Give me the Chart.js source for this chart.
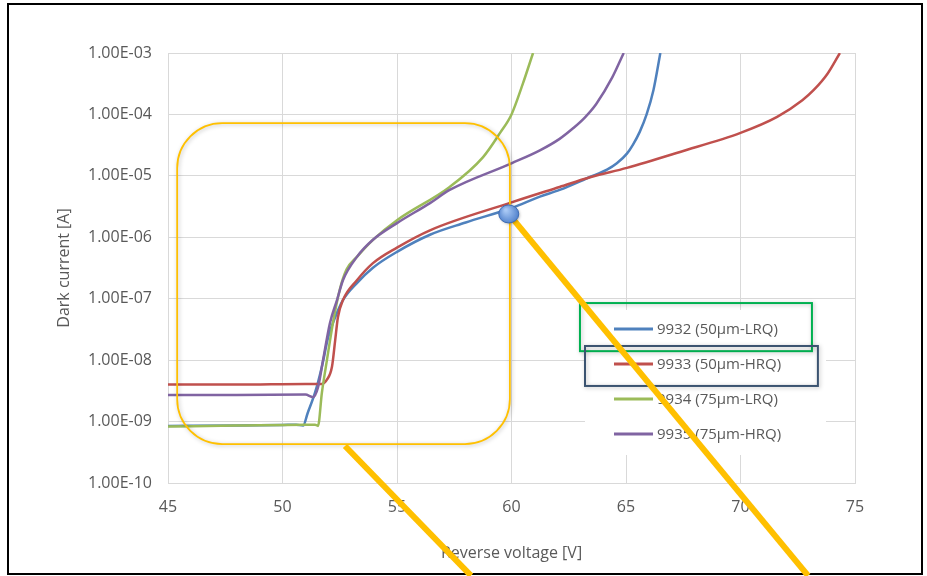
<!DOCTYPE html>
<html>
<head>
<meta charset="utf-8">
<script src="https://cdn.jsdelivr.net/npm/chart.js@4.4.1/dist/chart.umd.min.js"></script>
<style>
  html, body { margin: 0; padding: 0; background: #fff; }
</style>
</head>
<body>
<canvas id="darkCurrent" width="927" height="576"></canvas>
<script>
const seriesNames = ['9932 (50µm-LRQ)', '9933 (50µm-HRQ)', '9934 (75µm-LRQ)', '9935 (75µm-HRQ)'];
const seriesColors = ['#4f81bd', '#c0504d', '#9bbb59', '#8064a2'];

// 9932 (50µm-LRQ)
const v9932 = [45, 48, 50, 50.6, 50.9, 51.1, 51.42, 51.72, 52.0, 52.3, 52.64, 53.25, 53.95, 55, 56.44, 58, 60, 61.24, 62.1, 63.4, 64.17, 64.6, 65.04, 65.3, 65.6, 65.9, 66.2, 66.5];
const i9932 = [8.5e-10, 8.6e-10, 8.8e-10, 8.9e-10, 8.6e-10, 1.38e-9, 2.95e-9, 7.8e-9, 2.4e-8, 5.0e-8, 9.5e-8, 1.8e-7, 3.2e-7, 5.8e-7, 1.1e-6, 1.74e-6, 3.0e-6, 4.6e-6, 5.9e-6, 9.5e-6, 1.26e-5, 1.6e-5, 2.3e-5, 3.2e-5, 5.2e-5, 1.0e-4, 2.5e-4, 1.0e-3];

// 9933 (50µm-HRQ)
const v9933 = [45, 48, 51, 51.72, 51.94, 52.16, 52.3, 52.42, 52.64, 53.25, 53.95, 55, 56.44, 60, 62.1, 63.43, 65.04, 67.36, 70, 71.6, 72.7, 73.2, 73.8, 74.34];
const i9933 = [4.0e-9, 4.0e-9, 4.1e-9, 4.1e-9, 4.8e-9, 7.8e-9, 2.1e-8, 5.0e-8, 9.5e-8, 2.0e-7, 3.8e-7, 6.8e-7, 1.3e-6, 3.7e-6, 6.6e-6, 9.5e-6, 1.35e-5, 2.45e-5, 5.0e-5, 9.1e-5, 1.7e-4, 2.5e-4, 4.6e-4, 1.0e-3];

// 9934 (75µm-LRQ)
const v9934 = [45, 48, 51, 51.42, 51.55, 51.72, 51.94, 52.2, 52.5, 52.8, 53.25, 53.95, 55, 57.3, 58.75, 59.5, 60, 60.5, 60.94];
const i9934 = [8.3e-10, 8.6e-10, 8.9e-10, 8.9e-10, 8.5e-10, 2.95e-9, 1.0e-8, 4.0e-8, 1.4e-7, 3.0e-7, 4.8e-7, 9.1e-7, 1.9e-6, 6.6e-6, 2.0e-5, 5.0e-5, 1.0e-4, 3.2e-4, 1.0e-3];

// 9935 (75µm-HRQ)
const v9935 = [45, 48, 51, 51.33, 51.55, 51.77, 52.07, 52.38, 52.64, 53.25, 53.95, 55, 56.44, 57.3, 60, 61.24, 62.1, 62.7, 63.2, 63.7, 64.4, 64.9];
const i9935 = [2.7e-9, 2.7e-9, 2.75e-9, 2.5e-9, 3.6e-9, 1.0e-8, 4.0e-8, 9.5e-8, 2.0e-7, 4.8e-7, 9.1e-7, 1.7e-6, 3.6e-6, 5.9e-6, 1.6e-5, 2.6e-5, 4.0e-5, 6.0e-5, 8.9e-5, 1.48e-4, 4.0e-4, 1.0e-3];

const xTicks = [45, 50, 55, 60, 65, 70, 75];
const yTicks = [1e-10, 1e-9, 1e-8, 1e-7, 1e-6, 1e-5, 1e-4, 1e-3];

const seriesV = [v9932, v9933, v9934, v9935];
const seriesI = [i9932, i9933, i9934, i9935];

const textColor = '#595959';
const fontFamily = "'Open Sans', 'DejaVu Sans', sans-serif";

function fmtE(v) {
    const parts = v.toExponential(2).split('e');
    const e = parseInt(parts[1]);
    return parts[0] + 'E' + (e < 0 ? '-' : '+') + String(Math.abs(e)).padStart(2, '0');
}

const datasets = seriesNames.map((name, k) => ({
    label: name,
    data: seriesV[k].map((v, j) => ({ x: v, y: seriesI[k][j] })),
    borderColor: seriesColors[k],
    backgroundColor: seriesColors[k],
    borderWidth: 2.5,
    pointRadius: 0,
    cubicInterpolationMode: 'monotone',
    order: 3 - k,
}));

// callout shapes placed in data units (volts, amps)
const calloutBox = { x0: 45.4, x1: 59.93, y0: 7.2e-5, y1: 4.3e-10 };
const calloutDot = { x: 59.88, y: 2.4e-6 };
const calloutLines = [
    { x0: 59.88, y0: 2.4e-6, x1: 72.95, y1: 3.1e-12 },
    { x0: 52.73, y0: 4.0e-10, x1: 58.23, y1: 3.1e-12 },
];
const legendFrames = [
    { x0: 62.99, x1: 73.12, y0: 8.5e-8, y1: 1.4e-8, color: '#00b050' },
    { x0: 63.21, x1: 73.38, y0: 1.7e-8, y1: 3.8e-9, color: '#3b5370' },
];

const decorPlugin = {
    id: 'decor',
    beforeDraw(chart) {
        const ctx = chart.ctx;
        ctx.save();
        ctx.fillStyle = '#fff';
        ctx.fillRect(0, 0, chart.width, chart.height);
        ctx.restore();
    },
    afterDraw(chart) {
        const ctx = chart.ctx;
        const xs = chart.scales.x, ys = chart.scales.y;
        const ca = chart.chartArea;
        const px = v => xs.getPixelForValue(v);
        const py = v => ys.getPixelForValue(v);
        ctx.save();

        // outer frame
        ctx.strokeStyle = '#000';
        ctx.lineWidth = 2;
        ctx.strokeRect(8, 4, 914, 570);

        // legend
        const lx = ca.right - 270, ly = ca.top + 257;
        ctx.fillStyle = '#fff';
        ctx.fillRect(lx, ly, 241, 145);
        ctx.font = '15px ' + fontFamily;
        ctx.textBaseline = 'middle';
        seriesNames.forEach((name, k) => {
            const rowY = ca.top + 276 + k * 35;
            ctx.strokeStyle = seriesColors[k];
            ctx.lineWidth = 3;
            ctx.beginPath();
            ctx.moveTo(ca.right - 241, rowY);
            ctx.lineTo(ca.right - 202, rowY);
            ctx.stroke();
            ctx.fillStyle = textColor;
            ctx.fillText(name, ca.right - 198, rowY + 1);
        });

        // rounded orange box
        ctx.shadowColor = 'rgba(0,0,0,0.25)';
        ctx.shadowBlur = 4;
        ctx.shadowOffsetX = 1;
        ctx.shadowOffsetY = 1;
        ctx.strokeStyle = '#ffc000';
        ctx.lineWidth = 1.75;
        ctx.beginPath();
        ctx.roundRect(px(calloutBox.x0), py(calloutBox.y0), px(calloutBox.x1) - px(calloutBox.x0), py(calloutBox.y1) - py(calloutBox.y0), 45);
        ctx.stroke();

        // frames around legend rows
        legendFrames.forEach(f => {
            ctx.strokeStyle = f.color;
            ctx.lineWidth = 2;
            ctx.strokeRect(px(f.x0), py(f.y0), px(f.x1) - px(f.x0), py(f.y1) - py(f.y0));
        });
        ctx.shadowColor = 'transparent';

        // thick pointer lines
        ctx.strokeStyle = '#ffc000';
        ctx.lineWidth = 6;
        ctx.lineCap = 'butt';
        calloutLines.forEach(l => {
            ctx.beginPath();
            ctx.moveTo(px(l.x0), py(l.y0));
            ctx.lineTo(px(l.x1), py(l.y1));
            ctx.stroke();
        });

        // blue dot
        const cx = px(calloutDot.x), cy = py(calloutDot.y);
        const g = ctx.createRadialGradient(cx - 3, cy - 4, 1, cx, cy, 11);
        g.addColorStop(0, '#a9c9f5');
        g.addColorStop(1, '#4a7cc9');
        ctx.shadowColor = 'rgba(0,0,0,0.3)';
        ctx.shadowBlur = 3;
        ctx.shadowOffsetY = 1;
        ctx.fillStyle = g;
        ctx.beginPath();
        ctx.ellipse(cx, cy, 10, 9, 0, 0, Math.PI * 2);
        ctx.fill();
        ctx.shadowColor = 'transparent';
        ctx.strokeStyle = '#3d6cb5';
        ctx.lineWidth = 1;
        ctx.stroke();

        ctx.restore();
    }
};

const config = {
    type: 'line',
    data: { datasets: datasets },
    options: {
        responsive: false,
        animation: false,
        layout: { padding: { top: 53, right: 72, bottom: 0, left: 0 } },
        plugins: {
            legend: { display: false },
            tooltip: { enabled: false },
        },
        scales: {
            x: {
                type: 'linear',
                min: 45,
                max: 75,
                afterBuildTicks: s => { s.ticks = xTicks.map(v => ({ value: v })); },
                afterFit: s => { s.height = 93; },
                grid: { color: '#d9d9d9', drawTicks: false },
                border: { color: '#d9d9d9' },
                ticks: { padding: 15, color: textColor, font: { family: fontFamily, size: 16 } },
                title: {
                    display: true,
                    text: 'Reverse voltage [V]',
                    color: textColor,
                    font: { family: fontFamily, size: 16 },
                    padding: { top: 0, bottom: 13 },
                },
            },
            y: {
                type: 'logarithmic',
                min: 1e-10,
                max: 1e-3,
                afterBuildTicks: s => { s.ticks = yTicks.map(v => ({ value: v })); },
                afterFit: s => { s.width = 168; },
                grid: { color: '#d9d9d9', drawTicks: false },
                border: { color: '#d9d9d9' },
                ticks: {
                    padding: 16,
                    color: textColor,
                    font: { family: fontFamily, size: 16 },
                    callback: v => fmtE(v),
                },
                title: {
                    display: true,
                    text: 'Dark current [A]',
                    color: textColor,
                    font: { family: fontFamily, size: 16 },
                    padding: { top: 55, bottom: 0 },
                },
            },
        },
    },
    plugins: [decorPlugin],
};

const darkCurrentChart = new Chart(document.getElementById('darkCurrent'), config);
</script>
</body>
</html>
